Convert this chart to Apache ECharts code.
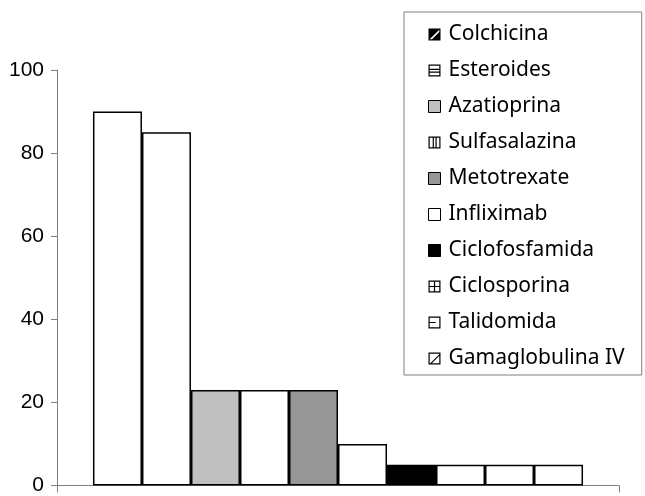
<!DOCTYPE html>
<html>
<head>
<meta charset="utf-8">
<script src="https://cdn.jsdelivr.net/npm/echarts@6/dist/echarts.min.js"></script>
<style>html,body{margin:0;padding:0;background:#fff}#c{width:645px;height:496px}</style>
</head>
<body>
<div id="c"></div>
<script>
const seriesNames = ['Colchicina','Esteroides','Azatioprina','Sulfasalazina','Metotrexate','Infliximab','Ciclofosfamida','Ciclosporina','Talidomida','Gamaglobulina IV'];
const seriesValues = [90, 85, 23, 23, 23, 10, 5, 5, 5, 5];
const barColors = ['#ffffff','#ffffff','#c0c0c0','#ffffff','#969696','#ffffff','#000000','#ffffff','#ffffff','#ffffff'];
const yTicks = [0, 20, 40, 60, 80, 100];

const FRAME = 'M0,0 H10 V10 H0 Z M1,1 V9 H9 V1 Z ';
const legendIcons = {
  'Colchicina': 'path://M0,0 H10 V10 H0 Z M3,9 L9,3 V1 L1,9 Z',
  'Esteroides': 'path://' + FRAME + 'M1,3.5 H9 V4.5 H1 Z M1,5.8 H9 V6.8 H1 Z',
  'Sulfasalazina': 'path://' + FRAME + 'M3.5,1 H4.5 V9 H3.5 Z M5.8,1 H6.8 V9 H5.8 Z',
  'Ciclosporina': 'path://' + FRAME + 'M4.5,1 H5.5 V9 H4.5 Z M1,4.5 H9 V5.5 H1 Z',
  'Talidomida': 'path://' + FRAME + 'M1,4.5 H6 V5.5 H1 Z',
  'Gamaglobulina IV': 'path://' + FRAME + 'M1.5,9 L9,1.5 L9,2.8 L2.8,9 Z'
};

const legendData = seriesNames.map((n, i) => {
  if (legendIcons[n]) {
    return { name: n, icon: legendIcons[n], itemStyle: { color: '#000', borderWidth: 0 } };
  }
  return { name: n, icon: 'rect', itemStyle: { color: barColors[i], borderColor: '#000', borderWidth: 1 } };
});

const chart = echarts.init(document.getElementById('c'));
chart.setOption({
  animation: false,
  grid: { left: 57, right: 26, top: 70, bottom: 6.5, containLabel: false },
  legend: {
    orient: 'vertical',
    left: 404, top: 12,
    padding: [12, 17, 6, 24],
    itemWidth: 12, itemHeight: 12, itemGap: 15,
    backgroundColor: '#fff',
    borderColor: '#808080', borderWidth: 1,
    selectedMode: false,
    formatter: n => '{a|' + n + '}',
    textStyle: {
      fontFamily: 'Noto Sans', fontSize: 21, color: '#000',
      rich: { a: { fontFamily: 'Noto Sans', fontSize: 21, lineHeight: 21, color: '#000', padding: [0, 0, 0, 3] } }
    },
    data: legendData
  },
  xAxis: {
    type: 'category',
    data: [''],
    axisLine: { lineStyle: { color: '#808080', width: 1 } },
    axisTick: { show: true, length: 7, lineStyle: { color: '#808080' } },
    axisLabel: { show: false },
    splitLine: { show: false }
  },
  yAxis: {
    type: 'value',
    min: yTicks[0], max: yTicks[yTicks.length - 1], interval: 20,
    axisLine: { show: true, lineStyle: { color: '#808080', width: 1 } },
    axisTick: { show: true, length: 6, lineStyle: { color: '#808080' } },
    axisLabel: { color: '#000', fontFamily: 'Liberation Sans', fontSize: 21, margin: 13 },
    splitLine: { show: false }
  },
  series: seriesNames.map((n, i) => ({
    name: n,
    type: 'bar',
    barGap: '0%',
    barCategoryGap: '12.8%',
    data: [seriesValues[i]],
    itemStyle: { color: barColors[i], borderColor: '#000', borderWidth: 1.5 }
  }))
});
</script>
</body>
</html>
